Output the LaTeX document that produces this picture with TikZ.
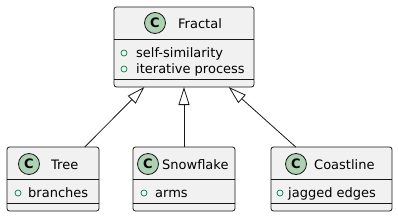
\documentclass[tikz,border=0pt]{standalone}
\usepackage{fontspec}
\setmainfont{DejaVu Sans}
\usepackage{xcolor}
\usetikzlibrary{arrows.meta, positioning}

\definecolor{umlfill}{HTML}{F1F1F1}
\definecolor{umlline}{HTML}{181818}
\definecolor{umlicon}{HTML}{ADD1B2}
\definecolor{umlvis}{HTML}{038048}

\begin{document}
\begin{tikzpicture}[
  x=1pt, y=-1pt,
  classbox/.style={rectangle, rounded corners=2.5pt, draw=umlline, fill=umlfill,
                   line width=0.8pt, outer sep=0pt, inner sep=0pt},
  cicon/.style={circle, draw=umlline, fill=umlicon, line width=0.8pt,
                minimum size=21pt, inner sep=0pt, font=\fontsize{13}{15}\selectfont\bfseries},
  cname/.style={anchor=base west, inner sep=0pt, font=\fontsize{13}{15}\selectfont},
  attr/.style={anchor=base west, inner sep=0pt, font=\fontsize{13}{15}\selectfont},
  vis/.style={circle, draw=umlvis, line width=0.7pt, minimum size=6pt, inner sep=0pt},
  sep/.style={draw=umlline, line width=0.5pt},
  inh/.style={-{Triangle[open, length=18pt, width=11pt]}, draw=umlline, line width=0.8pt}
]
\useasboundingbox (0,0) rectangle (398,217);

%% ── class boxes ──────────────────────────────────────────────────────
\node[classbox, minimum width=140pt, minimum height=80pt] at (184,47)   (fractal)   {};
\node[classbox, minimum width=92pt,  minimum height=64pt] at (53,179)   (tree)      {};
\node[classbox, minimum width=102pt, minimum height=64pt] at (184,179)  (snowflake) {};
\node[classbox, minimum width=121pt, minimum height=64pt] at (331.5,179) (coast)    {};

%% ── compartment lines ────────────────────────────────────────────────
\foreach \cls in {fractal, tree, snowflake, coast}{
  \draw[sep] ([yshift=-32pt]\cls.north west) -- ([yshift=-32pt]\cls.north east);
  \draw[sep] ([yshift=8pt]\cls.south west) -- ([yshift=8pt]\cls.south east);
}

%% ── Fractal ──────────────────────────────────────────────────────────
\node[cicon] at (155,23) (fractalC) {C};
\node[cname] at (178,28) (fractalN) {Fractal};
\node[vis]  at (124,53) (fractalV1) {};
\node[attr] at (136,57) (fractalA1) {self-similarity};
\node[vis]  at (124,69) (fractalV2) {};
\node[attr] at (136,73) (fractalA2) {iterative process};

%% ── Tree ─────────────────────────────────────────────────────────────
\node[cicon] at (29,164) (treeC) {C};
\node[cname] at (51,169) (treeN) {Tree};
\node[vis]  at (18,193) (treeV) {};
\node[attr] at (28,197) (treeA) {branches};

%% ── Snowflake ────────────────────────────────────────────────────────
\node[cicon] at (148,164) (snowC) {C};
\node[cname] at (162,169) (snowN) {Snowflake};
\node[vis]  at (144,193) (snowV) {};
\node[attr] at (155,197) (snowA) {arms};

%% ── Coastline ────────────────────────────────────────────────────────
\node[cicon] at (296,164) (coastC) {C};
\node[cname] at (314,169) (coastN) {Coastline};
\node[vis]  at (280,193) (coastV) {};
\node[attr] at (288,197) (coastA) {jagged edges};

%% ── inheritance ──────────────────────────────────────────────────────
\draw[inh] (tree) -- (fractal);
\draw[inh] (snowflake) -- (fractal);
\draw[inh] (coast) -- (fractal);

\end{tikzpicture}
\end{document}
